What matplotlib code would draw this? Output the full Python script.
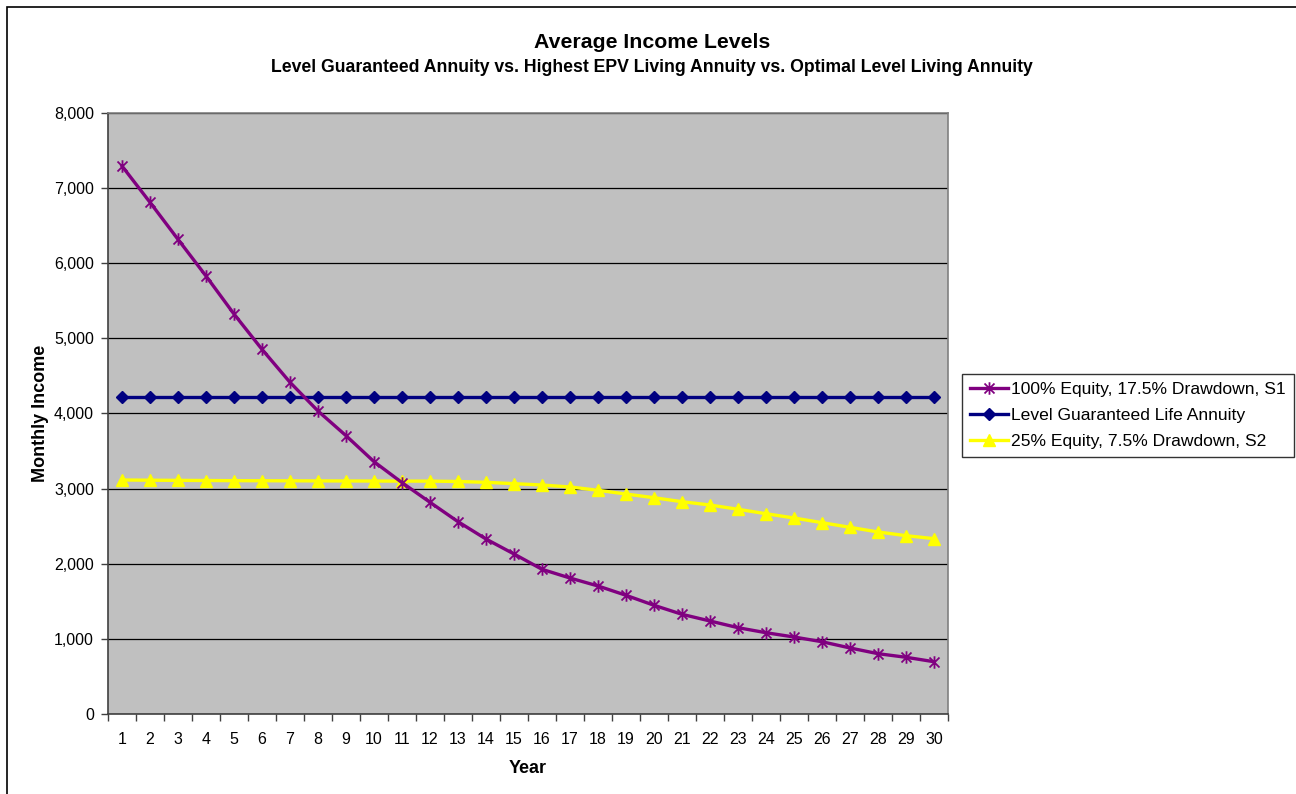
import matplotlib
matplotlib.use("Agg")
import matplotlib.pyplot as plt
from matplotlib.path import Path
from matplotlib.patches import Rectangle
from matplotlib.ticker import FuncFormatter, FixedLocator

years = list(range(1, 31))
equity100 = [7294, 6811, 6318, 5830, 5324, 4854, 4415, 4033, 3705, 3359,
             3080, 2818, 2560, 2329, 2130, 1926, 1810, 1704, 1580, 1447,
             1327, 1238, 1149, 1082, 1025, 962, 879, 803, 755, 696]
level_annuity = [4220] * 30
equity25 = [3115, 3112, 3110, 3108, 3106, 3105, 3104, 3103, 3102, 3101,
            3100, 3100, 3095, 3084, 3066, 3048, 3022, 2978, 2928, 2879,
            2826, 2782, 2725, 2666, 2609, 2547, 2485, 2423, 2374, 2334]

series_labels = ["100% Equity, 17.5% Drawdown, S1",
                 "Level Guaranteed Life Annuity",
                 "25% Equity, 7.5% Drawdown, S2"]
title = "Average Income Levels"
subtitle = "Level Guaranteed Annuity vs. Highest EPV Living Annuity vs. Optimal Level Living Annuity"
yticks = [0, 1000, 2000, 3000, 4000, 5000, 6000, 7000, 8000]

plt.rcParams['font.family'] = ['Liberation Sans', 'DejaVu Sans']

W, H = 1296, 794
fig = plt.figure(figsize=(W / 100, H / 100), dpi=100)
fig.patch.set_facecolor('white')

# chart-area border
fig.patches.append(Rectangle((7 / W, -0.05), 1.2, 1 - 7 / H + 0.05, transform=fig.transFigure,
                             fill=False, edgecolor='black', linewidth=1.2, zorder=0))

ax = fig.add_axes([108 / W, 1 - 714 / H, (948 - 108) / W, (714 - 113) / H])
ax.set_facecolor('#C0C0C0')

# asterisk marker
star = Path([(0, -1), (0, 1), (-0.8, -0.8), (0.8, 0.8), (-0.8, 0.8), (0.8, -0.8)],
            [Path.MOVETO, Path.LINETO, Path.MOVETO, Path.LINETO, Path.MOVETO, Path.LINETO])

ax.plot(years, equity100, color='#800080', linewidth=2.4, marker=star, markersize=9,
        markeredgewidth=1.3, markeredgecolor='#800080', label=series_labels[0], zorder=4)
ax.plot(years, level_annuity, color='#000080', linewidth=2.4, marker='D', markersize=6.5,
        markerfacecolor='#000080', markeredgecolor='#000080', label=series_labels[1], zorder=3)
ax.plot(years, equity25, color='#FFFF00', linewidth=2.4, marker='^', markersize=8,
        markerfacecolor='#FFFF00', markeredgecolor='#FFFF00', label=series_labels[2], zorder=3)

ax.set_xlim(0.5, 30.5)
ax.set_ylim(0, 8000)
ax.set_yticks(yticks)
ax.yaxis.set_major_formatter(FuncFormatter(lambda v, p: f"{int(v):,}"))
ax.grid(axis='y', color='black', linewidth=0.9, zorder=1)
ax.set_axisbelow(True)

ax.set_xticks(years)
ax.xaxis.set_minor_locator(FixedLocator([x + 0.5 for x in range(0, 31)]))
ax.tick_params(axis='x', which='major', length=0, pad=13, labelsize=11.5)
ax.tick_params(axis='x', which='minor', length=5, width=1, color='#404040', direction='out')
ax.tick_params(axis='y', which='major', length=5, width=1, color='#404040', direction='out',
               labelsize=11.5, pad=5)

for s in ['left', 'bottom']:
    ax.spines[s].set_color('#404040')
    ax.spines[s].set_linewidth(1.2)
for s in ['top', 'right']:
    ax.spines[s].set_color('#808080')
    ax.spines[s].set_linewidth(1.2)

ax.set_xlabel("Year", fontsize=13, fontweight='bold', labelpad=9)
ax.set_ylabel("Monthly Income", fontsize=13, fontweight='bold', labelpad=4)

fig.text(652 / W, 1 - 42 / H, title, ha='center', va='center', fontsize=15.3, fontweight='bold')
fig.text(652 / W, 1 - 67 / H, subtitle, ha='center', va='center', fontsize=12.7, fontweight='bold')

leg = fig.legend(loc='upper left', bbox_to_anchor=(962 / W, 1 - 374 / H), frameon=True,
                 fancybox=False, shadow=False, fontsize=12.6, handlelength=2.2, handletextpad=0.17,
                 borderpad=0.45, labelspacing=0.62, borderaxespad=0)
leg.get_frame().set_edgecolor('black')
leg.get_frame().set_linewidth(1.0)

fig.savefig("out.png", dpi=100)
